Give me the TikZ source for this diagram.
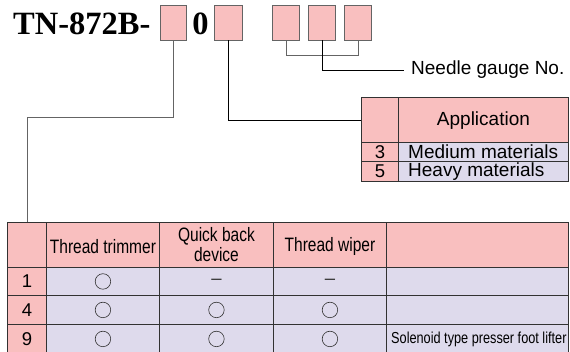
\documentclass[tikz,border=0pt]{standalone}
\usepackage{fontspec}
\setmainfont{Liberation Serif}
\setsansfont{Liberation Sans}
\newfontfamily\narrowsf[FakeStretch=0.8]{Liberation Sans}
\usetikzlibrary{calc,positioning}
\definecolor{cellpink}{RGB}{249,191,191}
\definecolor{celllav}{RGB}{222,218,236}
\definecolor{rulegray}{RGB}{50,50,50}
\definecolor{leadgray}{RGB}{100,100,100}

\begin{document}
\begin{tikzpicture}[x=1pt,y=-1pt,
    digitbox/.style={draw=leadgray, fill=cellpink, line width=0.9pt, minimum width=27pt, minimum height=34.5pt, inner sep=0pt, anchor=north west},
    cell/.style={draw=rulegray, line width=0.9pt, inner sep=0pt, anchor=north west},
    lead/.style={line width=0.9pt},
    bigsf/.style={font=\sffamily\fontsize{19}{21}\selectfont},
    tabsf/.style={font=\narrowsf\fontsize{19.4}{20}\selectfont},
    numsf/.style={font=\sffamily\fontsize{18.5}{20}\selectfont},
    yesmark/.style={draw=rulegray, line width=0.6pt, circle, minimum size=15.5pt, inner sep=0pt}]

\useasboundingbox (0,0) rectangle (570,351);

% model number with the code boxes
\node[anchor=base west, inner sep=0pt, font=\bfseries\fontsize{32.5}{34}\selectfont] (model) at (13,34) {TN-872B-};
\node[digitbox, minimum width=26pt] (b1) at (160,5) {};
\node[anchor=base, inner sep=0pt, font=\bfseries\fontsize{32.5}{34}\selectfont] (zero) at (200.5,34) {0};
\node[digitbox, minimum width=28pt] (b2) at (214,5) {};
\node[digitbox] (b3) at (272,5) {};
\node[digitbox] (b4) at (308,5) {};
\node[digitbox] (b5) at (344,5) {};

\node[bigsf, anchor=west, inner xsep=7pt] (needle) at (404,70) {Needle gauge No.};

% application table
\foreach \ya/\yb/\fc [count=\r from 0] in {97/142/cellpink,142/161/celllav,161/181/celllav} {
    \node[cell, fill=cellpink, minimum width=37pt, minimum height={(\yb-\ya)*1pt}] (a\r) at (361,\ya) {};
    \node[cell, fill=\fc, minimum width=170pt, minimum height={(\yb-\ya)*1pt}] (ap\r) at (398,\ya) {};
}
\node[bigsf, yshift=-1pt] (apphead) at (ap0) {Application};
\node[numsf] (app3) at (a1) {3};
\node[numsf] (app5) at (a2) {5};
\node[bigsf, anchor=west, inner sep=0pt] (medium) at ([xshift=10pt]ap1.west) {Medium materials};
\node[bigsf, anchor=west, inner sep=0pt] (heavy) at ([xshift=10pt]ap2.west) {Heavy materials};

% device table
\foreach \ya/\yb [count=\r from 0] in {222/267,267/295,295/324,324/353} {
    \foreach \xa/\xb [count=\c] in {7/46,46/159,159/273,273/386,386/568} {
        \ifnum\r=0 \def\fc{cellpink}\else\ifnum\c=1 \def\fc{cellpink}\else\def\fc{celllav}\fi\fi
        \node[cell, fill=\fc, minimum width={(\xb-\xa)*1pt}, minimum height={(\yb-\ya)*1pt}] (t\r-\c) at (\xa,\ya) {};
    }
}
\node[tabsf, yshift=-2pt] (trimmer) at (t0-2) {Thread trimmer};
\node[tabsf, align=center] (quickback) at (t0-3) {Quick back\\device};
\node[tabsf, yshift=-2pt] (wiper) at (t0-4) {Thread wiper};

\node[numsf] (code1) at (t1-1) {1};
\node[numsf] (code4) at (t2-1) {4};
\node[numsf] (code9) at (t3-1) {9};

\foreach \cc in {t1-2,t2-2,t2-3,t2-4,t3-2,t3-3,t3-4}
    \node[yesmark] (o\cc) at (\cc) {};
\node[numsf, text=rulegray] (no1-3) at (t1-3) {–};
\node[numsf, text=rulegray] (no1-4) at (t1-4) {–};

\node[font=\narrowsf\fontsize{15.9}{17}\selectfont, anchor=west, inner sep=0pt] (solenoid) at ([xshift=5pt]t3-5.west) {Solenoid type presser foot lifter};

% leader lines
\path (0,117) coordinate (bend1);
\draw[lead, draw=leadgray] (b1.south) |- (bend1 -| t0-1.north) -- (t0-1.north);
\draw[lead] (b2.south) |- (a0.west);
\draw[lead, draw=leadgray] (b3.south) -- ++(0,15.5) -| (b5.south);
\draw[lead] (b4.south) |- (needle.west);
\end{tikzpicture}
\end{document}
